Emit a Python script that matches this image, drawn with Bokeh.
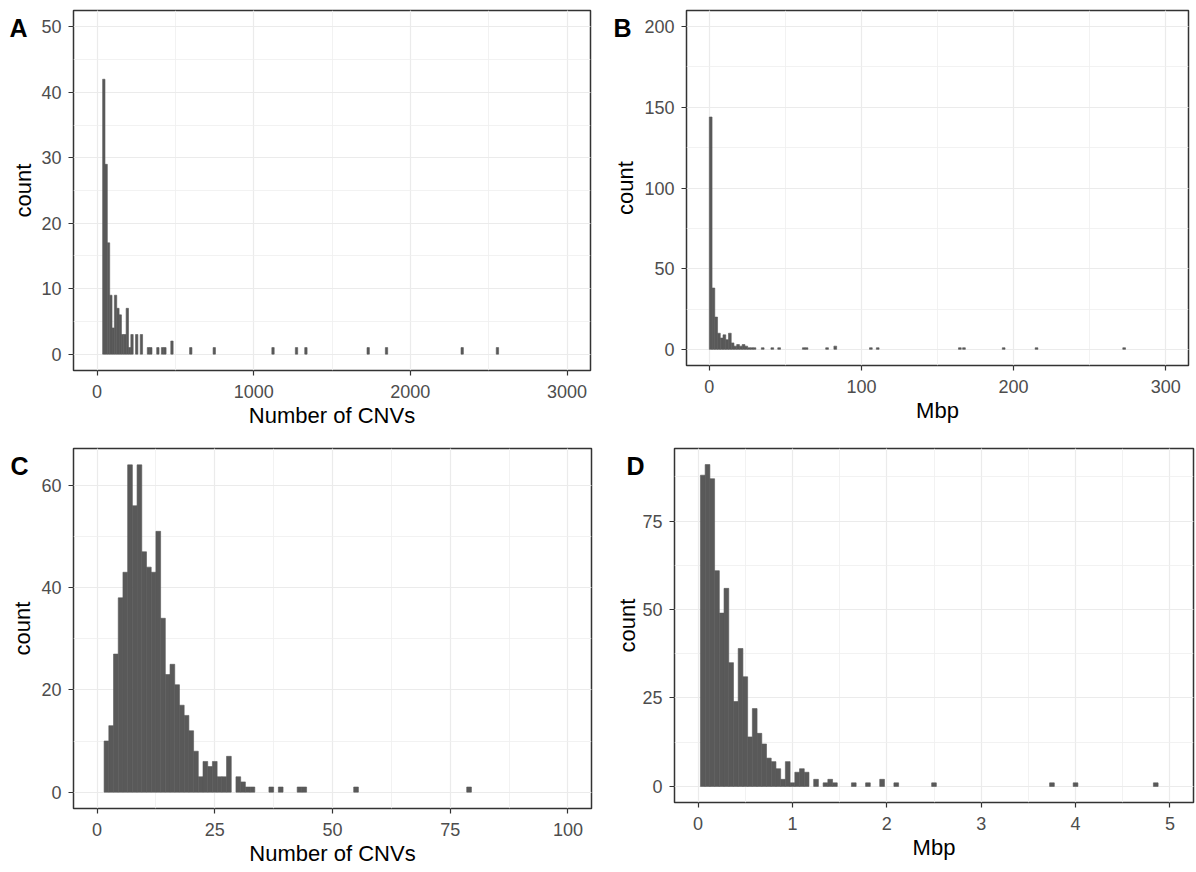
from bokeh.plotting import figure
from bokeh.layouts import column, row
from bokeh.models import SingleIntervalTicker, FixedTicker, Range1d, LinearAxis
from bokeh.embed import file_html
from bokeh.resources import INLINE

# ---------------- data (bin centres, counts) ----------------
# A: Number of CNVs per sample
a_x = [43.5, 58.5, 73.5, 88.5, 103.5, 118.5, 133.5, 148.5, 163.5, 178.5,
       193.5, 208.5, 223.5, 253.5, 283.5, 328.5, 343.5, 388.5, 418.5, 433.5,
       478.5, 598.5, 748.5, 1123.5, 1273.5, 1333.5, 1731, 1848, 2331, 2556]
a_n = [42, 29, 17, 9, 4, 9, 7, 6, 3, 3,
       7, 1, 3, 3, 3, 1, 1, 1, 1, 1,
       2, 1, 1, 1, 1, 1, 1, 1, 1, 1]

# B: Mbp per sample
b_x = [0.9, 2.7, 4.5, 6.3, 8.1, 9.9, 11.7, 13.5, 15.3, 17.1, 18.9, 20.7,
       22.5, 24.3, 26.1, 27.9, 29.7, 35.1, 41.4, 45.9, 62.1, 63.9, 77.4,
       82.8, 106.2, 110.7, 164.7, 167.4, 193.5, 215.1, 272.7]
b_n = [144, 38, 20, 10, 7, 9, 6, 10, 4, 2, 3, 2,
       3, 2, 1, 1, 1, 1, 1, 1, 1, 1, 1,
       2, 1, 1, 1, 1, 1, 1, 1]

# C: Number of CNVs (filtered)
c_x = [2, 3, 4, 5, 6, 7, 8, 9, 10, 11, 12, 13, 14, 15, 16, 17, 18, 19, 20,
       21, 22, 23, 24, 25, 26, 27, 28, 30, 31, 32, 33, 37, 39, 43, 44, 55, 79]
c_n = [10, 13, 27, 38, 43, 64, 56, 64, 47, 44, 43, 51, 34, 23, 25, 21, 17, 15, 12,
       8, 3, 6, 5, 6, 3, 3, 7, 3, 2, 1, 1, 1, 1, 1, 1, 1, 1]

# D: Mbp (filtered)
d_x = [0.05, 0.10, 0.15, 0.20, 0.25, 0.30, 0.35, 0.40, 0.45, 0.50, 0.55, 0.60,
       0.65, 0.70, 0.75, 0.80, 0.85, 0.90, 0.95, 1.00, 1.05, 1.10, 1.15, 1.25,
       1.35, 1.40, 1.45, 1.65, 1.80, 1.95, 2.10, 2.50, 3.75, 4.00, 4.85]
d_n = [88, 91, 87, 61, 49, 56, 35, 24, 39, 31, 14, 22,
       15, 12, 8, 7, 5, 2, 7, 1, 4, 5, 4, 2,
       1, 2, 1, 1, 1, 2, 1, 1, 1, 1, 1]

FONT = "Liberation Sans"
BAR = "#595959"


def panel(x, n, bw, xr, yr, xint, yint, xlabel, tag, tag_s, title_s,
          left, frame_w, right, top, frame_h, bottom):
    p = figure(frame_width=frame_w, frame_height=frame_h,
               x_range=Range1d(*xr), y_range=Range1d(*yr),
               output_backend="svg", toolbar_location=None,
               min_border_left=left, min_border_right=right,
               min_border_top=top, min_border_bottom=bottom)
    p.vbar(x=x, top=n, bottom=0, width=bw, fill_color=BAR,
           line_color=BAR, line_width=0.6)

    xt = SingleIntervalTicker(interval=xint, num_minor_ticks=2)
    yt = SingleIntervalTicker(interval=yint, num_minor_ticks=2)
    p.xaxis.ticker = xt
    p.xgrid.ticker = xt
    p.yaxis.ticker = yt
    p.ygrid.ticker = yt

    p.outline_line_color = "#333333"
    p.outline_line_width = 1.5
    p.background_fill_color = "white"
    p.border_fill_color = "white"

    p.grid.grid_line_color = "#EBEBEB"
    p.grid.grid_line_width = 1.2
    p.grid.minor_grid_line_color = "#EFEFEF"
    p.grid.minor_grid_line_width = 0.8

    for ax in (p.xaxis[0], p.yaxis[0]):
        ax.axis_line_color = None
        ax.major_tick_line_color = "#333333"
        ax.major_tick_line_width = 1.2
        ax.major_tick_out = 5
        ax.major_tick_in = 0
        ax.minor_tick_line_color = None
        ax.major_label_text_font = FONT
        ax.major_label_text_font_size = "18px"
        ax.major_label_text_color = "#4D4D4D"
        ax.axis_label_text_font = FONT
        ax.axis_label_text_font_size = "22px"
        ax.axis_label_text_font_style = "normal"
        ax.axis_label_text_color = "black"

    p.xaxis[0].axis_label = xlabel
    p.xaxis[0].major_label_standoff = 9
    p.xaxis[0].axis_label_standoff = 2
    p.yaxis[0].major_label_standoff = 7

    # outer left axis: carries the panel tag (as its only tick label) and the "count" title
    p.extra_y_ranges = {"tag": Range1d(0, frame_h)}
    tag_y = frame_h - 17
    tag_axis = LinearAxis(y_range_name="tag", ticker=FixedTicker(ticks=[tag_y]),
                          major_label_overrides={tag_y: tag},
                          axis_label="count")
    tag_axis.axis_line_color = None
    tag_axis.major_tick_line_color = None
    tag_axis.minor_tick_line_color = None
    tag_axis.major_tick_out = 0
    tag_axis.major_tick_in = 0
    tag_axis.major_label_standoff = tag_s
    tag_axis.major_label_text_font = FONT
    tag_axis.major_label_text_font_size = "25px"
    tag_axis.major_label_text_font_style = "bold"
    tag_axis.major_label_text_color = "black"
    tag_axis.axis_label_standoff = title_s
    tag_axis.axis_label_text_font = FONT
    tag_axis.axis_label_text_font_size = "22px"
    tag_axis.axis_label_text_font_style = "normal"
    tag_axis.axis_label_text_color = "black"
    p.add_layout(tag_axis, "left")
    return p


pA = panel(a_x, a_n, 15, (-150, 3150), (-2.5, 52.5), 1000, 10, "Number of CNVs",
           "A", 11, -30, 73, 517, 20, 10, 360, 68)
pB = panel(b_x, b_n, 1.8, (-15, 315), (-10, 210), 100, 50, "Mbp",
           "B", 10, -28, 76, 502, 8, 10, 355, 73)
pC = panel(c_x, c_n, 1, (-5, 105), (-3.2, 67.2), 25, 20, "Number of CNVs",
           "C", 10, -28, 73, 518, 19, 10, 360, 62)
pD = panel(d_x, d_n, 0.05, (-0.25, 5.25), (-4.55, 95.55), 1, 25, "Mbp",
           "D", -5, -17, 64, 519, 3, 10, 354, 68)

layout = column(row(pA, pB), row(pC, pD))
open("out.html", "w").write(file_html(layout, INLINE))
